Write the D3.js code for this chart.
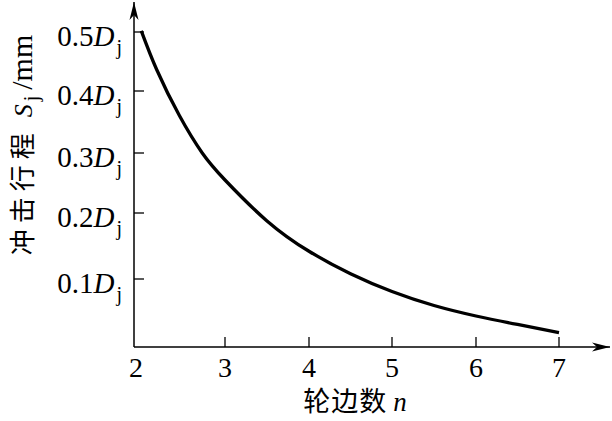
<!DOCTYPE html>
<html><head><meta charset="utf-8">
<script src="https://cdn.jsdelivr.net/npm/d3@7"></script>
<style>body{margin:0;background:#fff}svg{display:block}</style>
</head><body>
<svg id="c" width="612" height="421"></svg>
<script>
const nValues = [2.08, 2.25, 2.5, 2.75, 3, 3.5, 4, 4.5, 5, 5.5, 6, 6.5, 7];
const sValues = [0.502, 0.436, 0.36, 0.300, 0.255, 0.188, 0.142, 0.108, 0.0816, 0.061, 0.0456, 0.0331, 0.0213];
const xTicks = [2, 3, 4, 5, 6, 7];
const yTicks = [0.1, 0.2, 0.3, 0.4, 0.5];
const yTickLabels = ["0.1", "0.2", "0.3", "0.4", "0.5"];

const svg = d3.select("#c");
const serif = "'Liberation Serif','DejaVu Serif',serif";
const cjk = "'Noto Sans CJK SC',sans-serif";

// piecewise scales follow the (slightly irregular) tick spacing of the original
const x = d3.scaleLinear().domain([2,3,4,5,6,7]).range([134,225,309,392,476,559]);
const y = d3.scaleLinear().domain([0,0.1,0.2,0.3,0.4,0.5]).range([347,279,213,153,91,32]);

const defs = svg.append("defs");
defs.append("marker").attr("id","arr").attr("viewBox","0 0 18 10")
  .attr("refX",18).attr("refY",5).attr("markerWidth",18).attr("markerHeight",10)
  .attr("markerUnits","userSpaceOnUse").attr("orient","auto")
  .append("path").attr("d","M0,0.5 L18,5 L0,9.5 L5,5 Z").attr("fill","#000");

const x0 = x(2), y0 = y(0);
svg.append("line").attr("x1",x0).attr("y1",y0).attr("x2",610).attr("y2",y0)
  .attr("stroke","#000").attr("stroke-width",1.5).attr("marker-end","url(#arr)");
svg.append("line").attr("x1",x0).attr("y1",y0).attr("x2",x0).attr("y2",2)
  .attr("stroke","#000").attr("stroke-width",1.5).attr("marker-end","url(#arr)");

// x ticks (inward, up)
const xg = svg.append("g");
xTicks.forEach(t => {
  if (t !== 2) xg.append("line").attr("x1",x(t)).attr("x2",x(t)).attr("y1",y0).attr("y2",y0-10)
    .attr("stroke","#000").attr("stroke-width",1.3);
  xg.append("text").attr("x", t===2 ? x(t)+2 : x(t)).attr("y",377).attr("text-anchor","middle")
    .attr("font-family",serif).attr("font-size",28).text(t);
});

// y ticks (inward, right)
const yg = svg.append("g");
yTicks.forEach((t,i) => {
  yg.append("line").attr("x1",x0).attr("x2",x0+10).attr("y1",y(t)).attr("y2",y(t))
    .attr("stroke","#000").attr("stroke-width",1.3);
  const tx = yg.append("text").attr("x",122).attr("y",y(t)+14).attr("text-anchor","end")
    .attr("font-family",serif).attr("font-size",29);
  tx.append("tspan").text(yTickLabels[i]);
  tx.append("tspan").attr("font-style","italic").text("D");
  tx.append("tspan").attr("font-size",20).attr("dx",2).attr("dy",8).text("j");
});

// curve
const line = d3.line().x((d,i)=>x(nValues[i])).y(d=>y(d)).curve(d3.curveNatural);
svg.append("path").attr("d", line(sValues)).attr("fill","none")
  .attr("stroke","#000").attr("stroke-width",3.3).attr("stroke-linecap","butt");

// x title
const xt = svg.append("text").attr("x",355).attr("y",411).attr("text-anchor","middle")
  .attr("font-size",27);
xt.append("tspan").attr("font-family",cjk).attr("letter-spacing",1).text("轮边数");
xt.append("tspan").attr("font-family",serif).attr("font-style","italic").attr("dx",6).text("n");

// y title
const yt = svg.append("text").attr("transform","translate(32,145) rotate(-90)")
  .attr("text-anchor","middle").attr("font-size",26);
yt.append("tspan").attr("font-family",cjk).attr("letter-spacing",6).text("冲击行程");
yt.append("tspan").attr("font-family",serif).attr("font-style","italic").attr("dx",10).text("S");
yt.append("tspan").attr("font-family",serif).attr("font-size",20).attr("dx",3).attr("dy",6).text("j");
yt.append("tspan").attr("font-family",serif).attr("font-size",30).attr("dx",6).attr("dy",-6).text("/mm");
</script>
</body></html>
